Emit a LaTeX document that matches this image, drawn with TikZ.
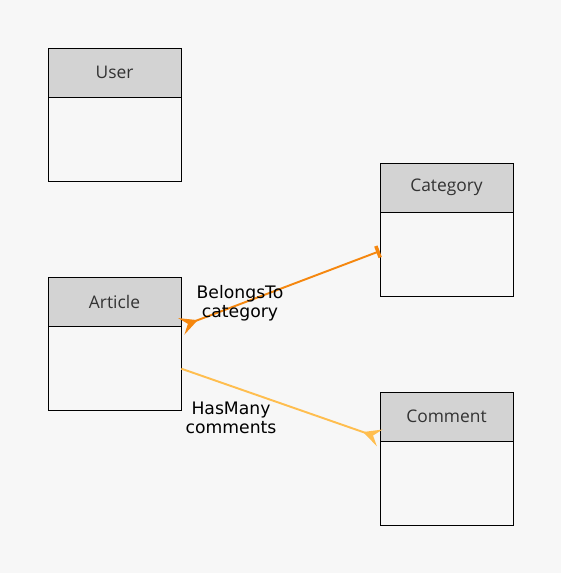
\documentclass[tikz,border=0pt]{standalone}
\usepackage{fontspec}
\setmainfont{DejaVu Sans}
\newfontfamily\titlefont{Open Sans}
\usetikzlibrary{arrows.meta,positioning}
\definecolor{bgcol}{HTML}{F7F7F7}
\definecolor{headcol}{HTML}{D3D3D3}
\definecolor{belongscol}{HTML}{F5870F}
\definecolor{hasmanycol}{HTML}{FFBE4F}
\tikzset{
	entityhead/.style={draw=black, fill=headcol, minimum width=2.66cm, minimum height=0.98cm, inner sep=0pt, font=\titlefont\fontsize{9.9}{11}\selectfont, text=black!80},
	entitybody/.style={draw=black, fill=bgcol, minimum width=2.66cm, minimum height=1.68cm, inner sep=0pt, below=0pt of #1},
	relline/.style={line width=1.1pt},
	rellabel/.style={align=center, font=\fontsize{9.8}{10.6}\selectfont, inner sep=0pt},
	manytip/.tip={Stealth[reversed, length=10pt, width=10pt, inset=4pt]}
}

\begin{document}
\begin{tikzpicture}[x=0.02cm, y=-0.02cm]
		%%%%% START %%%%%
		
		\fill[bgcol] (0, 0) rectangle (561, 573);
		\useasboundingbox (0, 0) rectangle (561, 573);
		
		\node[entityhead] (userHead) at (114.5, 72.5) {User};
		\node[entitybody=userHead] (userBody) {};
		
		\node[entityhead] (catHead) at (446.5, 187.5) {Category};
		\node[entitybody=catHead] (catBody) {};
		
		\node[entityhead] (artHead) at (114.5, 301.5) {Article};
		\node[entitybody=artHead] (artBody) {};
		
		\node[entityhead] (commHead) at (446.5, 416.5) {Comment};
		\node[entitybody=commHead] (commBody) {};
		
		\draw[relline, color=belongscol, {manytip}-{Bar[width=7pt, line width=2pt]}] (artHead.south east) -- ([yshift=2pt]catBody.west);
		\node[rellabel] (belongsLabel) at (240, 303) {BelongsTo\\category};
		
		\draw[relline, color=hasmanycol, -{manytip}] (artBody.east) -- ([yshift=2pt]commHead.south west);
		\node[rellabel] (hasmanyLabel) at (231, 418) {HasMany\\comments};
		
		%%%%% END %%%%%
	\end{tikzpicture}
\end{document}
